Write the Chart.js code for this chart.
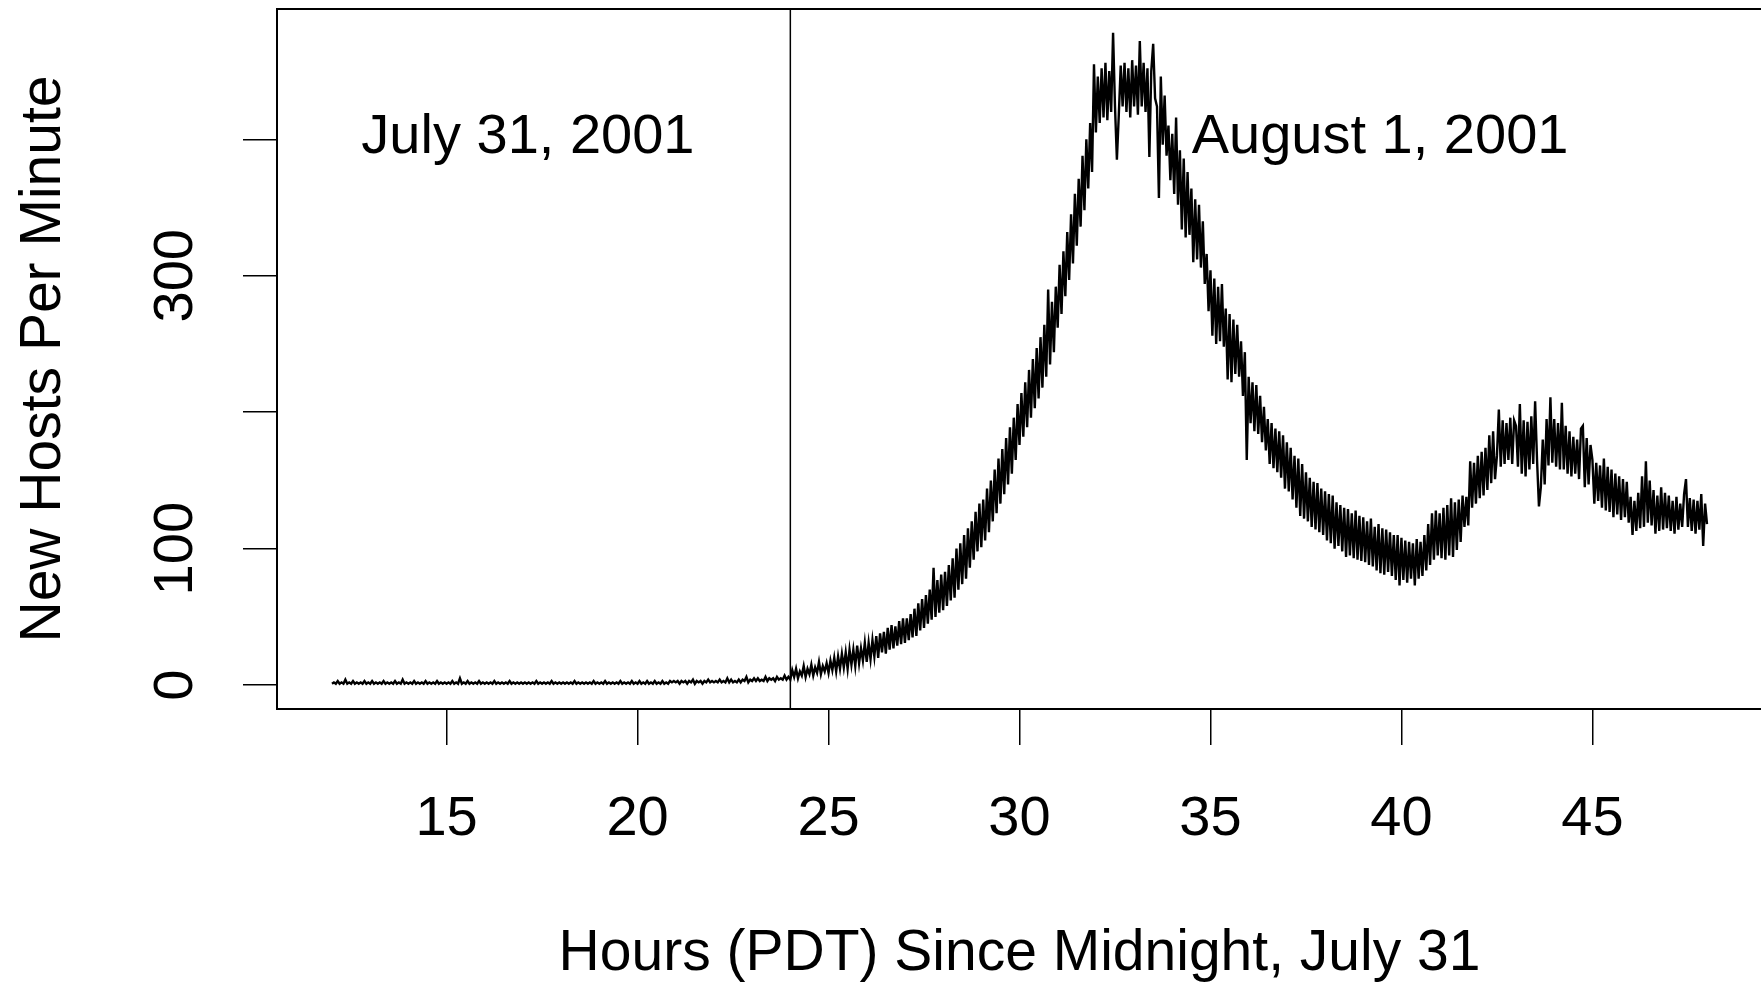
<!DOCTYPE html>
<html>
<head>
<meta charset="utf-8">
<title>New Hosts Per Minute</title>
<script src="https://cdn.jsdelivr.net/npm/chart.js@4.4.1/dist/chart.umd.min.js"></script>
<style>
  html, body { margin: 0; padding: 0; background: #fff; overflow: hidden; }
  canvas { display: block; }
</style>
</head>
<body>
<canvas id="graphHosts" width="1764" height="984"></canvas>
<script>
// valeurs, un point toutes les 3 minutes (0.05 h)
const startHour = 12;
const stepHours = 0.05;

// 12h -> 23h55 (July 31)
const hostsJuly31 = [
  1,2,1,3,1,2,1,4,1,2,1,3,1,2,1,2,1,3,1,2,   // 12
  1,3,1,2,1,2,1,3,1,2,1,2,1,3,1,2,1,4,1,2,   // 13
  1,2,1,3,1,2,1,2,1,3,1,2,1,2,1,3,1,2,1,2,   // 14
  1,2,1,3,1,2,1,5,1,2,1,3,1,2,1,2,1,3,1,2,   // 15
  1,2,1,2,1,3,1,2,1,2,1,2,1,3,1,2,1,2,1,2,   // 16
  1,2,1,2,1,2,1,3,1,2,1,2,1,2,1,3,1,2,1,2,   // 17
  1,2,1,2,1,2,1,3,1,2,1,2,1,2,1,2,1,3,1,2,   // 18
  1,2,1,3,1,2,1,2,1,2,1,3,1,2,1,2,1,3,1,2,   // 19
  1,3,1,2,1,3,1,2,1,3,1,2,1,3,1,2,1,3,2,3,   // 20
  2,3,1,3,2,3,1,3,2,4,1,3,2,3,1,3,2,4,2,3,   // 21
  2,3,2,4,2,3,2,5,2,4,2,3,2,4,2,4,3,6,2,4,   // 22
  3,5,3,5,3,4,3,6,3,5,4,5,3,6,4,5,4,7,4,6    // 23
];

// 24h -> 48h (August 1)
const hostsAug1 = [
  4,11,6,12,5,10,7,14,6,12,8,15,7,13,9,17,8,14,10,16,                                // 24
  9,18,11,20,10,21,12,23,13,24,12,26,15,26,14,29,16,27,18,31,                        // 25
  17,31,19,33,21,36,20,38,24,39,23,42,26,44,27,43,29,47,30,49,                       // 26
  31,49,33,52,35,56,36,60,40,63,42,66,45,70,48,86,50,77,53,81,                       // 27
  55,83,58,88,62,93,64,100,70,104,74,110,78,115,86,120,92,127,98,133,                // 28
  101,136,106,144,112,150,120,158,126,166,133,173,140,181,147,189,155,196,165,206,   // 29
  176,214,182,222,189,231,196,239,203,247,210,255,218,264,226,290,235,281,244,292,   // 30
  262,308,272,318,285,332,297,345,309,360,322,371,336,388,348,400,364,412,376,455,   // 31
  405,446,412,452,416,456,414,450,420,478,424,385,418,454,424,456,420,452,416,458,   // 32
  424,454,418,472,424,456,420,452,387,450,470,430,424,357,446,396,432,388,410,370,   // 33
  404,360,416,352,392,334,386,328,376,330,364,310,356,312,352,306,340,294,316,274,   // 34
  304,256,298,250,292,252,294,248,276,224,272,222,268,228,264,226,252,212,244,165,   // 35
  226,192,222,186,220,184,212,178,204,172,195,162,192,159,188,156,186,152,183,144,   // 36
  178,142,174,136,168,130,166,124,162,122,156,120,152,116,149,114,148,112,144,110,   // 37
  142,106,140,104,139,100,134,102,132,98,130,94,129,95,126,93,128,92,124,91,         // 38
  123,90,120,88,122,87,116,84,118,82,115,81,114,83,112,80,110,77,110,73,             // 39
  108,77,106,75,105,78,104,73,107,78,105,80,110,84,118,88,126,92,128,95,             // 40
  126,93,130,92,132,95,137,94,134,99,136,105,139,116,138,117,164,130,163,133,        // 41
  168,137,171,139,174,143,183,148,186,151,168,202,160,194,162,192,165,196,162,194,   // 42
  190,160,206,155,194,153,193,158,197,162,208,165,131,145,180,147,195,161,211,163,   // 43
  195,160,192,158,207,158,190,155,186,153,182,155,180,151,188,190,145,181,147,176,   // 44
  165,133,163,135,161,130,166,128,160,127,158,123,155,125,153,121,151,123,149,119,   // 45
  138,110,135,113,141,115,153,116,164,119,150,117,143,111,139,113,145,114,141,115,   // 46
  139,113,135,111,138,114,133,116,140,151,116,137,113,136,111,135,114,140,102,133,   // 47
  118                                                                                // 48
];

const dayBoundary = 24;
const xTicks = [15, 20, 25, 30, 35, 40, 45];
const yTicks = [0, 100, 200, 300, 400];
const yTickLabels = ["0", "100", "", "300", ""];
const dayLabels = ["July 31, 2001", "August 1, 2001"];
const dayLabelX = [17.13, 39.44];
const dayLabelY = [401, 401];
const xRange = [10.56, 49.44];
const yRange = [-17.5, 495.5];

const police = '"Liberation Sans", Arial, Helvetica, sans-serif';

const hosts = hostsJuly31.concat(hostsAug1);
const points = hosts.map((v, i) => ({ x: startHour + i * stepHours, y: v }));

// cadre du graphique + textes
const cadre = {
    id: "cadre",
    afterDatasetsDraw(chart) {
        const { ctx, chartArea: a, scales: { x, y } } = chart;
        ctx.save();
        ctx.strokeStyle = "#000";
        ctx.lineWidth = 2;
        ctx.strokeRect(a.left, a.top, a.right - a.left, a.bottom - a.top);

        ctx.fillStyle = "#000";
        ctx.font = "56px " + police;
        ctx.textAlign = "center";
        ctx.textBaseline = "middle";
        dayLabels.forEach((t, i) => {
            ctx.fillText(t, x.getPixelForValue(dayLabelX[i]), y.getPixelForValue(dayLabelY[i]));
        });

        // étiquettes de l'axe y tournées comme dans R
        yTicks.forEach((v, i) => {
            if (!yTickLabels[i]) return;
            ctx.save();
            ctx.translate(a.left - 100, y.getPixelForValue(v));
            ctx.rotate(-Math.PI / 2);
            ctx.fillText(yTickLabels[i], 0, 0);
            ctx.restore();
        });
        ctx.restore();
    }
};

const ctx = document.getElementById("graphHosts").getContext("2d");
new Chart(ctx, {
    type: "line",
    data: {
        datasets: [{
            data: points,
            borderColor: "#000",
            borderWidth: 2.4,
            pointRadius: 0,
            tension: 0,
            fill: false
        }, {
            data: [{ x: dayBoundary, y: yRange[0] }, { x: dayBoundary, y: yRange[1] }],
            borderColor: "#000",
            borderWidth: 1.5,
            pointRadius: 0,
            fill: false
        }]
    },
    options: {
        responsive: false,
        animation: false,
        events: [],
        layout: { padding: { top: 9, right: 2, left: 0, bottom: 0 } },
        plugins: { legend: { display: false }, tooltip: { enabled: false } },
        scales: {
            x: {
                type: "linear",
                min: xRange[0],
                max: xRange[1],
                afterFit: s => { s.height = 275; },
                afterBuildTicks: s => { s.ticks = xTicks.map(v => ({ value: v })); },
                grid: { drawOnChartArea: false, drawTicks: true, tickLength: 36, color: "#000", tickColor: "#000", lineWidth: 1.5 },
                border: { display: false },
                ticks: {
                    color: "#000",
                    font: { family: police, size: 56, lineHeight: 1.2 },
                    padding: 41,
                    maxRotation: 0,
                    autoSkip: false
                },
                title: {
                    display: true,
                    text: "Hours (PDT) Since Midnight, July 31",
                    color: "#000",
                    font: { family: police, size: 57, lineHeight: 1 },
                    padding: { top: 0, bottom: 1 }
                }
            },
            y: {
                type: "linear",
                min: yRange[0],
                max: yRange[1],
                afterFit: s => { s.width = 277; },
                afterBuildTicks: s => { s.ticks = yTicks.map(v => ({ value: v })); },
                grid: { drawOnChartArea: false, drawTicks: true, tickLength: 34, color: "#000", tickColor: "#000", lineWidth: 1.5 },
                border: { display: false },
                ticks: { display: false },
                title: {
                    display: true,
                    text: "New Hosts Per Minute",
                    color: "#000",
                    font: { family: police, size: 57, lineHeight: 1.2 },
                    padding: { top: 10, bottom: 0 }
                }
            }
        }
    },
    plugins: [cadre]
});
</script>
</body>
</html>
